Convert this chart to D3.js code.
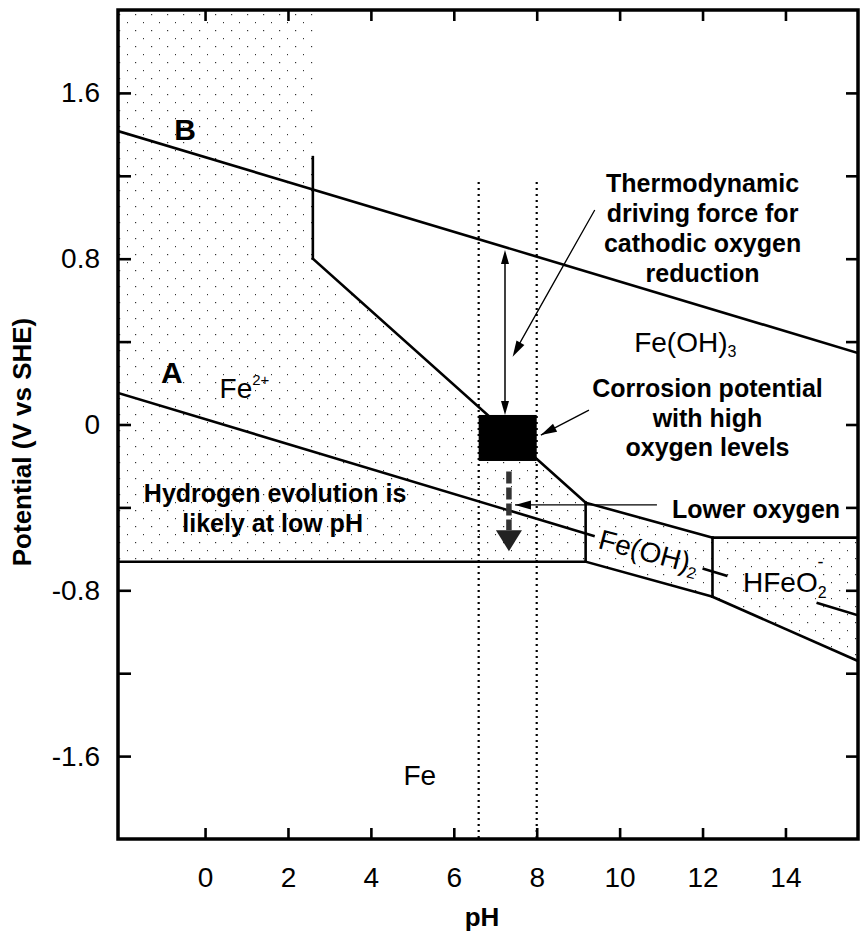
<!DOCTYPE html>
<html><head><meta charset="utf-8">
<script src="https://cdn.jsdelivr.net/npm/d3@7/dist/d3.min.js"></script>
<style>body{margin:0;background:#fff}</style>
</head><body>
<svg id="c" width="862" height="934"></svg>
<script>
// ---------------- data ----------------
const xTicks = [0, 2, 4, 6, 8, 10, 12, 14];
const xTickLabels = ["0", "2", "4", "6", "8", "10", "12", "14"];
const yMajorTicks = [1.6, 0.8, 0, -0.8, -1.6];
const yTickLabels = ["1.6", "0.8", "0", "-0.8", "-1.6"];
const yMinorTicks = [1.2, 0.4, -0.4, -1.2];

// water stability lines [pH, V]
const lineB = [[-2.1, 1.416], [15.75, 0.345]];
const lineASegments = [
  [[-2.1, 0.152], [9.4, -0.539]],
  [[12.0, -0.695], [12.6, -0.731]],
  [[14.75, -0.860], [15.75, -0.921]]
];
// phase boundaries
const boundaries = [
  [[2.6, 1.29], [2.6, 0.80]],
  [[2.6, 0.80], [9.18, -0.377]],
  [[9.18, -0.377], [9.18, -0.662]],
  [[-2.1, -0.662], [9.18, -0.662]],
  [[9.18, -0.377], [12.24, -0.546]],
  [[9.18, -0.662], [12.24, -0.831]],
  [[12.24, -0.546], [12.24, -0.831]],
  [[12.24, -0.546], [15.75, -0.546]],
  [[12.24, -0.831], [15.75, -1.141]]
];
// dotted (soluble / hydroxide) regions
const regionFe2 = [[-2.1, 2.0], [2.6, 2.0], [2.6, 0.80], [9.18, -0.377], [9.18, -0.662], [-2.1, -0.662]];
const regionFeOH2 = [[9.18, -0.377], [12.24, -0.546], [12.24, -0.831], [9.18, -0.662]];
const regionHFeO2 = [[12.24, -0.546], [15.75, -0.546], [15.75, -1.141], [12.24, -0.831]];

// annotations
const dottedPH = [6.6, 8.0];
const dottedTopV = 1.17;
const corrosionBox = {pH0: 6.6, pH1: 8.0, v0: -0.176, v1: 0.046};
const drivingArrow = [[7.235, 0.842], [7.235, 0.046]];
const lowerOxArrow = [[7.33, -0.227], [7.33, -0.611]];
const thermoPointer = [[9.40, 1.035], [8.68, 0.78], [7.42, 0.327]];
const corrPointer = [[9.26, 0.069], [8.10, -0.051]];
const lowerPointer = [[10.90, -0.388], [7.476, -0.388]];

// ---------------- drawing ----------------
const svg = d3.select("#c");
const x = d3.scaleLinear().domain([-2.1, 15.75]).range([118, 858]);
const y = d3.scaleLinear().domain([-2, 2]).range([839, 10]);
const font = "Liberation Sans, Arial, Helvetica, sans-serif";

const defs = svg.append("defs");
const pat = defs.append("pattern").attr("id", "dots").attr("patternUnits", "userSpaceOnUse")
  .attr("width", 16).attr("height", 16);
pat.append("rect").attr("x", 7).attr("y", 14).attr("width", 1.2).attr("height", 1.2).attr("fill", "#333");
pat.append("rect").attr("x", 15).attr("y", 6).attr("width", 1.2).attr("height", 1.2).attr("fill", "#333");
defs.append("clipPath").attr("id", "plotclip").append("rect")
  .attr("x", x(-2.1)).attr("y", y(2)).attr("width", x(15.75) - x(-2.1)).attr("height", y(-2) - y(2));

const line = d3.line().x(d => x(d[0])).y(d => y(d[1]));
const plot = svg.append("g").attr("clip-path", "url(#plotclip)");

[regionFe2, regionFeOH2, regionHFeO2].forEach(r => {
  plot.append("path").attr("d", line(r) + "Z").attr("fill", "url(#dots)").attr("stroke", "none");
});

// dotted vertical lines
dottedPH.forEach(p => {
  plot.append("line").attr("x1", x(p)).attr("x2", x(p)).attr("y1", y(dottedTopV)).attr("y2", y(-2))
    .attr("stroke", "#000").attr("stroke-width", 2.2).attr("stroke-dasharray", "2,4");
});

// lines
plot.append("path").attr("d", line(lineB)).attr("stroke", "#000").attr("stroke-width", 2.6).attr("fill", "none");
lineASegments.forEach(s => plot.append("path").attr("d", line(s)).attr("stroke", "#000").attr("stroke-width", 2.6).attr("fill", "none"));
boundaries.forEach(s => plot.append("path").attr("d", line(s)).attr("stroke", "#000").attr("stroke-width", 2.6).attr("fill", "none").attr("stroke-linecap", "square"));

// black box
plot.append("rect").attr("x", x(corrosionBox.pH0)).attr("y", y(corrosionBox.v1))
  .attr("width", x(corrosionBox.pH1) - x(corrosionBox.pH0)).attr("height", y(corrosionBox.v0) - y(corrosionBox.v1))
  .attr("fill", "#000");

// arrow helper
function head(g, tip, from, len, w, color) {
  const tx = x(tip[0]), ty = y(tip[1]), fx = x(from[0]), fy = y(from[1]);
  const a = Math.atan2(ty - fy, tx - fx);
  const bx = tx - len * Math.cos(a), by = ty - len * Math.sin(a);
  const px = -Math.sin(a) * w / 2, py = Math.cos(a) * w / 2;
  g.append("path").attr("d", `M${tx},${ty}L${bx + px},${by + py}L${bx - px},${by - py}Z`).attr("fill", color);
  return [bx, by];
}
const ann = svg.append("g");
// double arrow
ann.append("line").attr("x1", x(drivingArrow[0][0])).attr("x2", x(drivingArrow[1][0]))
  .attr("y1", y(drivingArrow[0][1]) + 8).attr("y2", y(drivingArrow[1][1]) - 8)
  .attr("stroke", "#000").attr("stroke-width", 1.5);
head(ann, drivingArrow[0], drivingArrow[1], 14, 8, "#000");
head(ann, drivingArrow[1], drivingArrow[0], 14, 8, "#000");

// dashed thick arrow
const dh = head(ann, lowerOxArrow[1], lowerOxArrow[0], 21, 26, "#222");
ann.append("line").attr("x1", x(lowerOxArrow[0][0])).attr("x2", x(lowerOxArrow[0][0]))
  .attr("y1", y(lowerOxArrow[0][1])).attr("y2", dh[1])
  .attr("stroke", "#333").attr("stroke-width", 5.5).attr("stroke-dasharray", "12,4");

// pointers
const curve = d3.line().x(d => x(d[0])).y(d => y(d[1])).curve(d3.curveNatural);
ann.append("path").attr("d", curve(thermoPointer.slice(0, 2).concat([[7.50, 0.36]])))
  .attr("stroke", "#000").attr("stroke-width", 1.3).attr("fill", "none");
head(ann, thermoPointer[2], thermoPointer[1], 16, 9, "#000");
ann.append("path").attr("d", line(corrPointer)).attr("stroke", "#000").attr("stroke-width", 1.3).attr("fill", "none");
head(ann, corrPointer[1], corrPointer[0], 16, 9, "#000");
ann.append("path").attr("d", line(lowerPointer)).attr("stroke", "#000").attr("stroke-width", 1.3).attr("fill", "none");
head(ann, lowerPointer[1], lowerPointer[0], 16, 9, "#000");

// ---------------- axes ----------------
const tl = 11;
const xb = svg.append("g").attr("transform", `translate(0,${y(-2)})`)
  .call(d3.axisBottom(x).tickValues(xTicks).tickSizeInner(-tl).tickSizeOuter(0).tickPadding(28)
    .tickFormat((d, i) => xTickLabels[i]));
const xt = svg.append("g").attr("transform", `translate(0,${y(2)})`)
  .call(d3.axisTop(x).tickValues(xTicks).tickSizeInner(-tl).tickSizeOuter(0).tickFormat(""));
const yl = svg.append("g").attr("transform", `translate(${x(-2.1)},0)`)
  .call(d3.axisLeft(y).tickValues(yMajorTicks).tickSizeInner(-13).tickSizeOuter(0).tickPadding(18)
    .tickFormat((d, i) => yTickLabels[i]));
const ylm = svg.append("g").attr("transform", `translate(${x(-2.1)},0)`)
  .call(d3.axisLeft(y).tickValues(yMinorTicks).tickSizeInner(-13).tickSizeOuter(0).tickFormat(""));
const yr = svg.append("g").attr("transform", `translate(${x(15.75)},0)`)
  .call(d3.axisRight(y).tickValues(yMajorTicks.concat(yMinorTicks)).tickSizeInner(-12).tickSizeOuter(0).tickFormat(""));
[xb, xt, yl, ylm, yr].forEach(g => {
  g.select(".domain").remove();
  g.selectAll(".tick line").attr("stroke", "#000").attr("stroke-width", 2.6);
  g.selectAll(".tick text").attr("font-family", font).attr("font-size", 28).attr("fill", "#000");
});
svg.append("rect").attr("x", x(-2.1)).attr("y", y(2)).attr("width", x(15.75) - x(-2.1)).attr("height", y(-2) - y(2))
  .attr("fill", "none").attr("stroke", "#000").attr("stroke-width", 3.5);

// axis titles
svg.append("text").attr("x", (x(-2.1) + x(15.75)) / 2 - 6).attr("y", 926).attr("text-anchor", "middle")
  .attr("font-family", font).attr("font-weight", "bold").attr("font-size", 26).text("pH");
svg.append("text").attr("transform", `translate(31,442) rotate(-90)`).attr("text-anchor", "middle")
  .attr("font-family", font).attr("font-weight", "bold").attr("font-size", 26).text("Potential (V vs SHE)");

// ---------------- text labels ----------------
function txt(pH, V, s, opts = {}) {
  return svg.append("text").attr("x", x(pH)).attr("y", y(V))
    .attr("text-anchor", opts.anchor || "middle")
    .attr("font-family", font).attr("font-weight", opts.bold ? "bold" : "normal")
    .attr("font-size", opts.size || 25).attr("fill", "#000").text(s);
}
const thermoLines = ["Thermodynamic", "driving force for", "cathodic oxygen", "reduction"];
const thermoV = [1.122, 0.977, 0.832, 0.687];
thermoLines.forEach((s, i) => txt(12.0, thermoV[i], s, {bold: true}));
const corrLines = ["Corrosion potential", "with high", "oxygen levels"];
const corrV = [0.132, -0.011, -0.151];
corrLines.forEach((s, i) => txt(12.12, corrV[i], s, {bold: true}));
const hydLines = ["Hydrogen evolution is", "likely at low pH"];
const hydV = [-0.374, -0.519];
hydLines.forEach((s, i) => txt(1.69 - i * 0.06, hydV[i], s, {bold: true}));
txt(13.29, -0.452, "Lower oxygen", {bold: true});
txt(-0.484, 1.373, "B", {bold: true, size: 30});
txt(-0.80, 0.20, "A", {bold: true, size: 30});
txt(5.18, -1.739, "Fe", {size: 28});

// Fe2+
const fe2 = txt(0.35, 0.13, "Fe", {size: 28, anchor: "start"});
fe2.append("tspan").attr("font-size", 15).attr("dy", -13).text("2+");
// Fe(OH)3
const feoh3 = txt(10.35, 0.35, "Fe(OH)", {size: 28, anchor: "start"});
feoh3.append("tspan").attr("font-size", 16).attr("dy", 5).text("3");
// Fe(OH)2 rotated
const fx = x(9.454), fy = y(-0.596);
const feoh2 = svg.append("text").attr("transform", `translate(${fx},${fy}) rotate(15)`)
  .attr("font-family", font).attr("font-size", 28).text("Fe(OH)");
feoh2.append("tspan").attr("font-size", 16).attr("dy", 5).text("2");
// HFeO2-
const hfe = txt(12.976, -0.808, "HFeO", {size: 28, anchor: "start"});
hfe.append("tspan").attr("font-size", 16).attr("dy", 6).attr("dx", 0).text("2");
hfe.append("tspan").attr("font-size", 18).attr("dy", -30).attr("dx", -9).text("-");
</script>
</body></html>
